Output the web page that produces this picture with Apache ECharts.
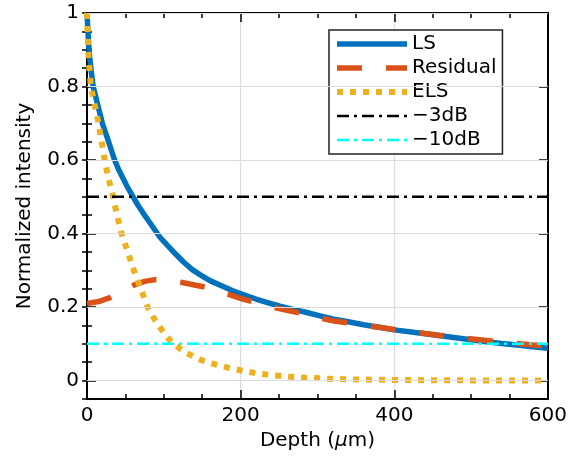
<!DOCTYPE html>
<html>
<head>
<meta charset="utf-8">
<script src="https://cdn.jsdelivr.net/npm/echarts@6/dist/echarts.min.js"></script>
<style>
html,body{margin:0;padding:0;background:#fff;}
#chart{width:570px;height:457px;}
</style>
</head>
<body>
<div id="chart"></div>
<script>
// ---- data ----
const lsDepth  = [0, 1, 2, 3, 5, 8, 11, 14, 17, 20, 24, 28, 32, 36, 41, 47, 53, 60, 67, 75, 85, 95, 105, 115, 126, 137, 148, 160, 175, 189, 205, 220, 235, 250, 268, 285, 302, 320, 340, 360, 380, 400, 430, 460, 490, 520, 540, 560, 580, 600];
const lsValue  = [1.0, 0.96, 0.92, 0.89, 0.85, 0.8, 0.775, 0.75, 0.725, 0.7, 0.675, 0.65, 0.625, 0.6, 0.575, 0.55, 0.525, 0.5, 0.475, 0.45, 0.42, 0.39, 0.367, 0.345, 0.322, 0.302, 0.287, 0.272, 0.258, 0.245, 0.233, 0.222, 0.212, 0.203, 0.194, 0.186, 0.177, 0.168, 0.16, 0.152, 0.145, 0.138, 0.13, 0.122, 0.114, 0.106, 0.101, 0.097, 0.092, 0.088];

const resDepth = [0, 15, 30, 45, 60, 75, 90, 105, 124, 140, 155, 170, 188, 203, 218, 234, 250, 268, 285, 302, 320, 340, 360, 380, 400, 430, 460, 490, 520, 540, 560, 580, 600];
const resValue = [0.21, 0.215, 0.226, 0.243, 0.259, 0.27, 0.275, 0.273, 0.267, 0.26, 0.254, 0.244, 0.232, 0.222, 0.213, 0.204, 0.196, 0.188, 0.18, 0.171, 0.163, 0.157, 0.151, 0.145, 0.139, 0.131, 0.123, 0.116, 0.109, 0.105, 0.101, 0.097, 0.094];

const elsDepth = [0, 1.5, 3, 5, 9, 12, 15, 19, 23, 28, 34, 39, 45, 53, 61, 70, 79, 87, 95, 103, 112, 121, 130, 140, 150, 162, 175, 188, 202, 220, 240, 262, 285, 315, 350, 400, 450, 520, 600];
const elsValue = [1.0, 0.9, 0.85, 0.8, 0.76, 0.73, 0.7, 0.65, 0.6, 0.55, 0.5, 0.45, 0.4, 0.35, 0.3, 0.25, 0.2, 0.17, 0.145, 0.122, 0.1, 0.087, 0.075, 0.064, 0.055, 0.047, 0.04, 0.033, 0.027, 0.02, 0.015, 0.011, 0.008, 0.005, 0.003, 0.002, 0.001, 0.0005, 0.0];

const level3dB  = 0.5;
const level10dB = 0.1;
const xRange = [0, 600];

const seriesNames = ['LS', 'Residual', 'ELS', '\u22123dB', '\u221210dB'];
const yMajorTicks = [0, 0.2, 0.4, 0.6, 0.8, 1];
const yMinorTicks = [-0.05, 0, 0.05, 0.1, 0.15, 0.2, 0.25, 0.3, 0.35, 0.4, 0.45, 0.5, 0.55, 0.6, 0.65, 0.7, 0.75, 0.8, 0.85, 0.9, 0.95, 1];

// ---- chart ----
const zip = (xs, ys) => xs.map((x, i) => [x, ys[i]]);
const FONT = 'DejaVu Sans';
const chart = echarts.init(document.getElementById('chart'), null, {renderer: 'canvas'});

const styles = [
  {color: '#0072BD', width: 5.5, type: 'solid'},
  {color: '#D95319', width: 5.5, type: [25, 24]},
  {color: '#EDB120', width: 6, type: [6, 7]},
  {color: '#000000', width: 2.5, type: [12, 5, 3, 5]},
  {color: '#00FFFF', width: 2.5, type: [12, 5, 3, 5]}
];

const baseY = {
  type: 'value', min: -0.05, max: 1, interval: 0.05,
  axisLine: {show: false},
  splitLine: {show: false},
  axisLabel: {show: false},
  axisTick: {show: false}
};
const yAxes = [
  Object.assign({}, baseY, {
    position: 'left',
    axisLine: {show: true, onZero: false, lineStyle: {color: '#000', width: 2}},
    axisLabel: {show: true, customValues: yMajorTicks, color: '#000', fontSize: 20, fontFamily: FONT, margin: 8},
    axisTick: {show: true, inside: true, length: 9, customValues: yMajorTicks, lineStyle: {color: '#000', width: 1.5}},
    name: 'Normalized intensity', nameLocation: 'middle', nameGap: 52,
    nameTextStyle: {color: '#000', fontSize: 20, fontFamily: FONT}
  }),
  Object.assign({}, baseY, {
    position: 'left',
    axisTick: {show: true, inside: true, length: 5, customValues: yMinorTicks, lineStyle: {color: '#000', width: 1.5}}
  }),
  Object.assign({}, baseY, {
    position: 'right',
    axisLine: {show: true, onZero: false, lineStyle: {color: '#000', width: 2}},
    axisTick: {show: true, inside: true, length: 9, customValues: yMajorTicks, lineStyle: {color: '#000', width: 1.5}}
  }),
  Object.assign({}, baseY, {
    position: 'right',
    axisTick: {show: true, inside: true, length: 5, customValues: yMinorTicks, lineStyle: {color: '#000', width: 1.5}}
  })
];

const baseX = {
  type: 'value', min: xRange[0], max: xRange[1], interval: 200,
  axisLine: {show: true, onZero: false, lineStyle: {color: '#000', width: 2}},
  axisTick: {show: true, inside: true, length: 9, lineStyle: {color: '#000', width: 1.5}},
  minorTick: {show: true, splitNumber: 4, length: 5, lineStyle: {color: '#000', width: 1.5}},
  splitLine: {show: false},
  axisLabel: {show: false}
};
const xAxes = [
  Object.assign({}, baseX, {
    position: 'bottom',
    splitLine: {show: true, lineStyle: {color: '#dcdcdc', width: 1.2}},
    axisLabel: {show: true, color: '#000', fontSize: 20, fontFamily: FONT, margin: 7},
    name: 'Depth ({i|\u03bc}m)', nameLocation: 'middle', nameGap: 30,
    nameTextStyle: {color: '#000', fontSize: 20, fontFamily: FONT,
      rich: {i: {fontStyle: 'italic', fontSize: 20, fontFamily: FONT, color: '#000'}}}
  }),
  Object.assign({}, baseX, {position: 'top'})
];

const lineBase = {type: 'line', symbol: 'none', showSymbol: false, xAxisIndex: 0, yAxisIndex: 0, animation: false, silent: true};
const seriesData = [
  zip(lsDepth, lsValue),
  zip(resDepth, resValue),
  zip(elsDepth, elsValue),
  zip(xRange, [level3dB, level3dB]),
  zip(xRange, [level10dB, level10dB])
];

const option = {
  animation: false,
  textStyle: {fontFamily: FONT},
  grid: {left: 87, right: 20, top: 13, bottom: 58},
  xAxis: xAxes,
  yAxis: yAxes,
  legend: {
    left: 329, top: 30, orient: 'vertical',
    data: seriesNames.map((n, i) => ({
      name: n,
      itemStyle: {color: 'rgba(0,0,0,0)', borderWidth: 0, opacity: 0},
      lineStyle: {color: styles[i].color, width: styles[i].width, type: styles[i].type, cap: 'butt'}
    })),
    itemWidth: 70, itemHeight: 14, itemGap: 4,
    padding: [4, 6, 4, 5],
    backgroundColor: '#fff', borderColor: '#222', borderWidth: 1.5,
    textStyle: {color: '#000', fontSize: 20, fontFamily: FONT},
    selectedMode: false
  },
  series: [
    Object.assign({}, lineBase, {
      name: '_grid', data: [],
      markLine: {
        silent: true, symbol: 'none', label: {show: false}, animation: false,
        lineStyle: {color: '#dcdcdc', width: 1.2, type: 'solid'},
        data: yMajorTicks.map(v => ({yAxis: v}))
      }
    })
  ].concat(seriesNames.map((n, i) => Object.assign({}, lineBase, {
    name: n, data: seriesData[i], color: styles[i].color,
    lineStyle: {color: styles[i].color, width: styles[i].width, type: styles[i].type, cap: 'butt', join: 'round'}
  })))
};
chart.setOption(option);
</script>
</body>
</html>
